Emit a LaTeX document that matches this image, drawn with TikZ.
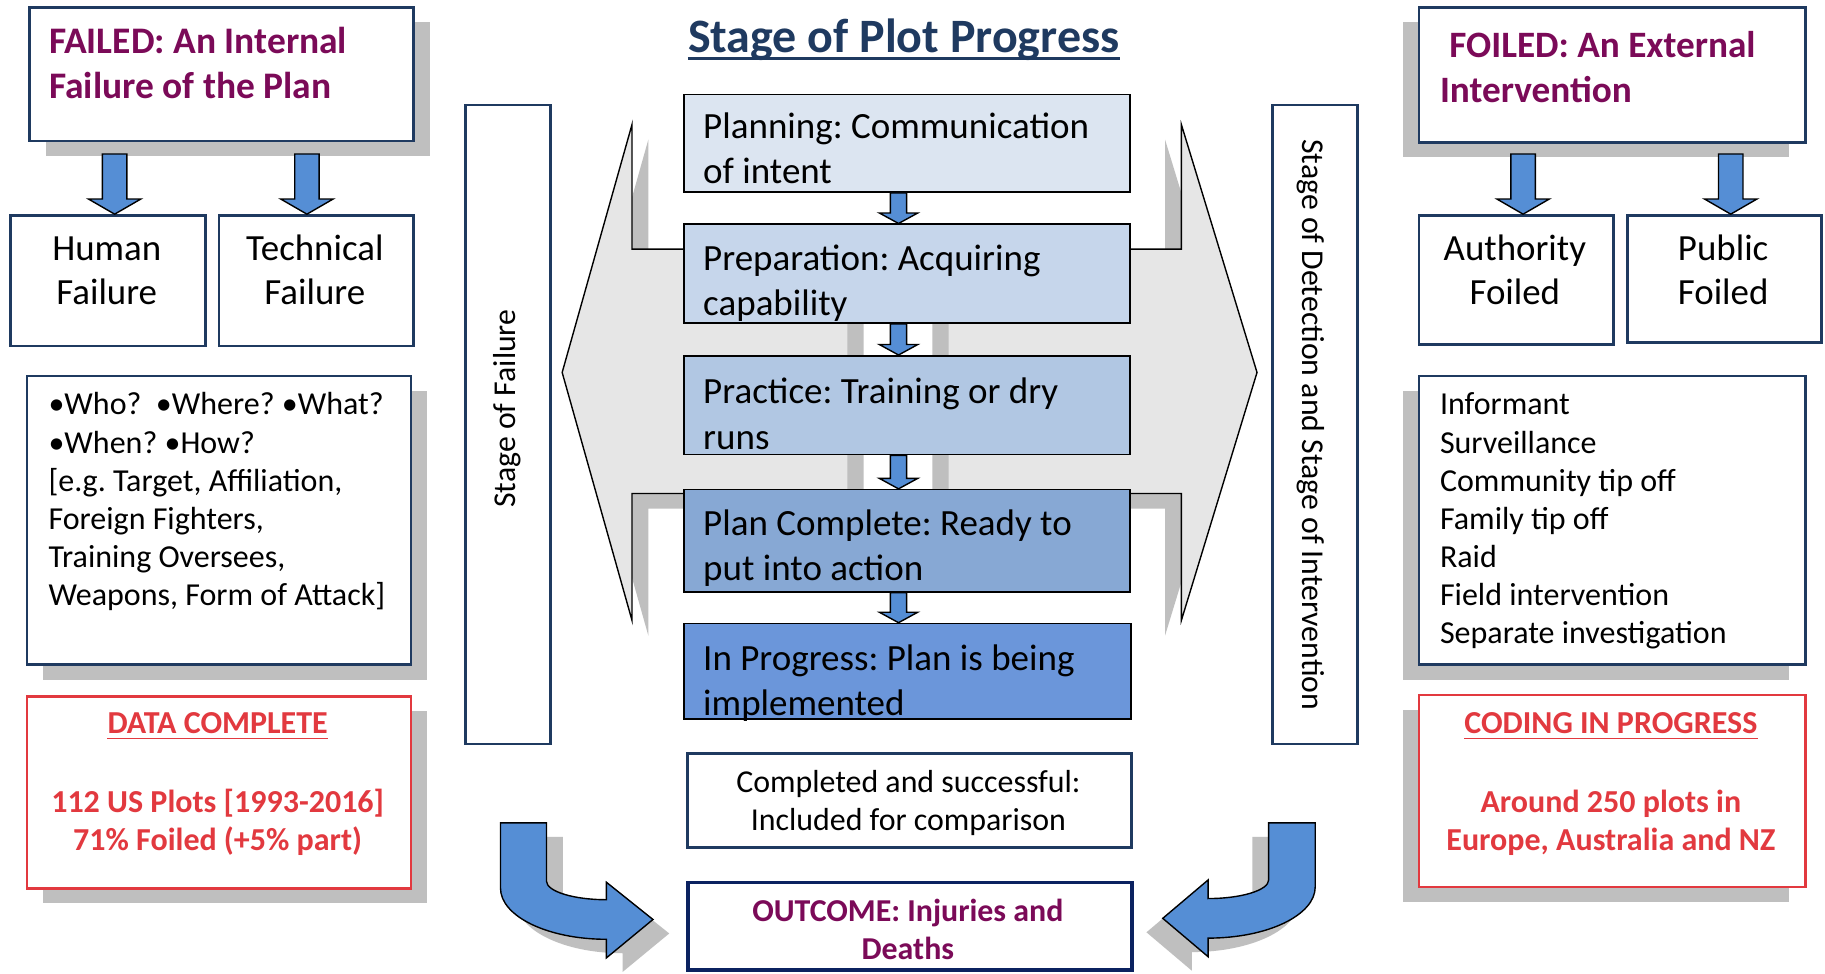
\documentclass[tikz,border=0pt]{standalone}
\usepackage{fontspec}
\setmainfont{Carlito}
\usetikzlibrary{calc,shadows}
\frenchspacing
\definecolor{navy}{HTML}{1F3A60}
\definecolor{navyd}{HTML}{0B2260}
\definecolor{plum}{HTML}{7B0A58}
\definecolor{redt}{HTML}{E2393F}
\definecolor{sgray}{HTML}{BFBFBF}
\definecolor{agray}{HTML}{E6E6E6}
\definecolor{barrowc}{HTML}{558ED5}
\definecolor{fa}{HTML}{DCE5F1}
\definecolor{fb}{HTML}{C6D6EB}
\definecolor{fc}{HTML}{B1C7E3}
\definecolor{fd}{HTML}{87A8D4}
\definecolor{fe}{HTML}{6B96DA}
\tikzset{
 boxbase/.style={draw, rectangle, inner sep=0, anchor=north west},
 navybox/.style={boxbase, draw=navy, line width=2.3, fill=white},
 redbox/.style={boxbase, draw=redt, line width=2.3, fill=white},
 shL/.style={general shadow={shadow xshift=14pt, shadow yshift=-13pt, fill=sgray}},
 shR/.style={general shadow={shadow xshift=-14pt, shadow yshift=-13pt, fill=sgray}},
 stagebox/.style={boxbase, draw=black, line width=1.3},
 blockarrow/.style={draw=black, line width=1.2, fill=barrowc, line join=miter},
 bigarrow/.style={draw=black, line width=1.2, line join=miter},
 tl/.style={inner sep=0, anchor=base west},
 tc/.style={inner sep=0, anchor=base},
}
\newcommand{\mkbox}[6]{\node[#2, minimum width={#5-#3}, minimum height={#6-#4}] (#1) at (#3,#4) {};}
\newcommand{\blockdown}[5]{%
 \draw[blockarrow] ($(#1)+(-#3,0)$) -- ($(#1)+(#3,0)$) -- ($(#2)+(#3,-#5)$) -- ($(#2)+(#4,-#5)$) -- (#2) -- ($(#2)+(-#4,-#5)$) -- ($(#2)+(-#3,-#5)$) -- cycle;}
\begin{document}
\begin{tikzpicture}[x=1pt,y=-1pt]
\useasboundingbox[fill=white] (0,0) rectangle (1568,836);

% ---- big double arrow (two halves) ----
\begin{scope}[shift={(14,13)}]
\fill[sgray] (728,214) -- (543,214) -- (543,107) -- (483,320) -- (543,533) -- (543,424) -- (728,424) -- cycle;
\end{scope}
\fill[agray] (728,214) -- (543,214) -- (543,107) -- (483,320) -- (543,533) -- (543,424) -- (728,424) -- cycle;
\draw[bigarrow] (728,214) -- (543,214) -- (543,107) -- (483,320) -- (543,533) -- (543,424) -- (728,424);
\begin{scope}[shift={(-14,13)}]
\fill[sgray] (815,214) -- (1015,214) -- (1015,107) -- (1080,320) -- (1015,533) -- (1015,424) -- (815,424) -- cycle;
\end{scope}
\fill[agray] (815,214) -- (1015,214) -- (1015,107) -- (1080,320) -- (1015,533) -- (1015,424) -- (815,424) -- cycle;
\draw[bigarrow] (815,214) -- (1015,214) -- (1015,107) -- (1080,320) -- (1015,533) -- (1015,424) -- (815,424);

% ---- title ----
\node[tc, text=navy, font=\fontsize{41.2}{48}\selectfont\bfseries] (title) at (776.5,45) {Stage of Plot Progress};
\draw[navy, line width=2.6] ([yshift=-5pt]title.base west) -- ([yshift=-5pt]title.base east);

% ---- left column ----
\mkbox{failed}{navybox,shL}{24}{5}{354}{120}
\node[tl, text=plum] (tfailed) at (42,46) {\parbox[t]{310pt}{\fontsize{32.2}{38.5}\selectfont\bfseries FAILED: An Internal\\Failure of the Plan}};
\mkbox{human}{navybox}{8}{184}{175.5}{296}
\mkbox{technical}{navybox}{187}{184}{354}{296}
\node[tc] (thuman) at (91.75,224) {\parbox[t]{160pt}{\centering\fontsize{31.7}{38}\selectfont Human\\Failure}};
\node[tc] (ttech) at (270.5,224) {\parbox[t]{160pt}{\centering\fontsize{31.7}{38}\selectfont Technical\\Failure}};
\coordinate (ha) at ($(failed.south west)+(74.5,10)$);
\coordinate (ta) at ($(failed.south west)+(239.7,10)$);
\blockdown{ha}{ha |- human.north}{10.5}{22.5}{13}
\blockdown{ta}{ta |- technical.north}{10.5}{22.5}{13}
\mkbox{who}{navybox,shL}{22}{322}{352}{570}
\node[tl] (twho) at (41.5,356.5) {\parbox[t]{310pt}{\fontsize{27.5}{32.8}\selectfont •Who?~ •Where? •What?\\•When? •How?\\{}[e.g. Target, Affiliation,\\Foreign Fighters,\\Training Oversees,\\Weapons, Form of Attack]}};
\mkbox{data}{redbox,shL}{22}{597}{352}{762}
\node[tc, text=redt, font=\fontsize{27.5}{32.5}\selectfont\bfseries] (tdata) at (187,630) {DATA COMPLETE};
\draw[redt, line width=1.3] ([yshift=-4.5pt]tdata.base west) -- ([yshift=-4.5pt]tdata.base east);
\node[tc, text=redt] (tdata2) at (187,698) {\parbox[t]{320pt}{\centering\fontsize{27.5}{32.5}\selectfont\bfseries 112 US Plots [1993-2016]\\71\% Foiled (+5\% part)}};

% ---- stage side boxes ----
\mkbox{sfail}{navybox}{399}{89}{472}{638}
\node[inner sep=0, rotate=90, font=\fontsize{27.3}{32}\selectfont] (tsfail) at (435.5,351) {Stage of Failure};
\mkbox{sdet}{navybox}{1092}{89}{1165}{638}
\node[inner sep=0, rotate=-90, font=\fontsize{27.3}{32}\selectfont] (tsdet) at (1126,365) {Stage of Detection and Stage of Intervention};

% ---- central stages ----
\mkbox{plan}{stagebox,fill=fa}{587}{80.5}{970}{164.5}
\mkbox{prep}{stagebox,fill=fb}{587}{192}{970}{277}
\mkbox{prac}{stagebox,fill=fc}{587}{305}{970}{390}
\mkbox{comp}{stagebox,fill=fd}{587}{420}{970}{508}
\mkbox{prog}{stagebox,fill=fe}{587}{535}{971}{617}
\node[tl] (tplan) at (604,119) {\parbox[t]{360pt}{\fontsize{31.8}{38.8}\selectfont Planning: Communication\\of intent}};
\node[tl] (tprep) at (604,232.5) {\parbox[t]{360pt}{\fontsize{31.8}{38.8}\selectfont Preparation: Acquiring\\capability}};
\node[tl] (tprac) at (604,347) {\parbox[t]{360pt}{\fontsize{31.8}{38.8}\selectfont Practice: Training or dry\\runs}};
\node[tl] (tcomp) at (604,460) {\parbox[t]{360pt}{\fontsize{31.8}{38.8}\selectfont Plan Complete: Ready to\\put into action}};
\node[tl] (tprog) at (604,576) {\parbox[t]{360pt}{\fontsize{31.8}{38.8}\selectfont In Progress: Plan is being\\implemented}};
\coordinate (ax) at (772,0);
\blockdown{ax |- plan.south}{ax |- prep.north}{7}{16.5}{9}
\blockdown{ax |- prep.south}{ax |- prac.north}{7}{16.5}{9}
\blockdown{ax |- prac.south}{ax |- comp.north}{7}{16.5}{9}
\blockdown{ax |- comp.south}{ax |- prog.north}{7}{16.5}{9}

\mkbox{done}{navybox}{589.5}{646}{971}{727}
\node[tc] (tdone) at (780.5,680.5) {\parbox[t]{370pt}{\centering\fontsize{27.4}{33}\selectfont Completed and successful:\\Included for comparison}};
\mkbox{outcome}{navybox,draw=navyd,line width=3}{589.5}{756.5}{971}{832}
\node[tc, text=plum] (tout) at (780,791.5) {\parbox[t]{370pt}{\centering\fontsize{27.4}{33}\selectfont\bfseries OUTCOME: Injuries and\\Deaths}};

% ---- curved arrows ----
\begin{scope}[shift={(14,12)}]
\fill[sgray] (430,707) -- (469.5,707) -- (469.5,757) .. controls (469.5,765.8) and (492.6,773) .. (521,773) -- (521,758) -- (561,790) -- (521,823) -- (521,807) .. controls (470.7,807) and (430,787.3) .. (430,763) -- cycle;
\end{scope}
\draw[blockarrow] (430,707) -- (469.5,707) -- (469.5,757) .. controls (469.5,765.8) and (492.6,773) .. (521,773) -- (521,758) -- (561,790) -- (521,823) -- (521,807) .. controls (470.7,807) and (430,787.3) .. (430,763) -- cycle;
\begin{scope}[shift={(-14,12)}]
\fill[sgray] (1130,707) -- (1090,707) -- (1090,756) .. controls (1090,764.8) and (1066.7,772) .. (1038,772) -- (1038,756) -- (999,789) -- (1038,822) -- (1038,806) .. controls (1089,806) and (1130,786.3) .. (1130,762) -- cycle;
\end{scope}
\draw[blockarrow] (1130,707) -- (1090,707) -- (1090,756) .. controls (1090,764.8) and (1066.7,772) .. (1038,772) -- (1038,756) -- (999,789) -- (1038,822) -- (1038,806) .. controls (1089,806) and (1130,786.3) .. (1130,762) -- cycle;

% ---- right column ----
\mkbox{foiled}{navybox,shR}{1218}{5}{1550}{121}
\node[tl, text=plum] (tfoiled) at (1237,49) {\parbox[t]{310pt}{\fontsize{32}{39}\selectfont\bfseries\hspace*{8pt}FOILED: An External\\Intervention}};
\mkbox{auth}{navybox}{1218}{184}{1385}{295}
\mkbox{public}{navybox}{1397}{184}{1564}{293}
\node[tc] (tauth) at (1301.5,224) {\parbox[t]{160pt}{\centering\fontsize{31.7}{38}\selectfont Authority\\Foiled}};
\node[tc] (tpublic) at (1480.5,224) {\parbox[t]{160pt}{\centering\fontsize{31.7}{38}\selectfont Public\\Foiled}};
\coordinate (aa) at ($(foiled.south west)+(90.6,9)$);
\coordinate (pa) at ($(foiled.south west)+(269,9)$);
\blockdown{aa}{aa |- auth.north}{10.5}{22.5}{13}
\blockdown{pa}{pa |- public.north}{10.5}{22.5}{13}
\mkbox{info}{navybox,shR}{1218}{322}{1550}{570}
\node[tl] (tinfo) at (1237,356.5) {\parbox[t]{310pt}{\fontsize{27.5}{32.8}\selectfont Informant\\Surveillance\\Community tip off\\Family tip off\\Raid\\Field intervention\\Separate investigation}};
\mkbox{coding}{redbox,shR}{1218}{596}{1550}{761}
\node[tc, text=redt, font=\fontsize{27.5}{32.5}\selectfont\bfseries] (tcoding) at (1384,630) {CODING IN PROGRESS};
\draw[redt, line width=1.3] ([yshift=-4.5pt]tcoding.base west) -- ([yshift=-4.5pt]tcoding.base east);
\node[tc, text=redt] (tcoding2) at (1384,698) {\parbox[t]{320pt}{\centering\fontsize{27.5}{32.5}\selectfont\bfseries Around 250 plots in\\Europe, Australia and NZ}};
\end{tikzpicture}
\end{document}
